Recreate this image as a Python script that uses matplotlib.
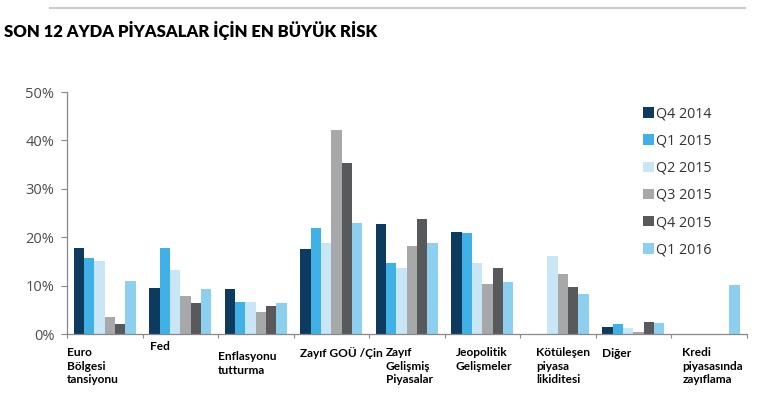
import numpy as np
import matplotlib.pyplot as plt
from matplotlib.lines import Line2D

categories = ["Euro\nBölgesi\ntansiyonu", "Fed", "Enflasyonu\ntutturma", "Zayıf GOÜ /Çin",
              "Zayıf\nGelişmiş\nPiyasalar", "Jeopolitik\nGelişmeler", "Kötüleşen\npiyasa\nlikiditesi",
              "Diğer", "Kredi\npiyasasında\nzayıflama"]
series = ["Q4 2014", "Q1 2015", "Q2 2015", "Q3 2015", "Q4 2015", "Q1 2016"]

q4_2014 = [17.8, 9.6, 9.4, 17.6, 22.7, 21.1, 0.0, 1.4, 0.0]
q1_2015 = [15.6, 17.8, 6.7, 21.8, 14.6, 20.9, 0.0, 2.1, 0.0]
q2_2015 = [15.1, 13.2, 6.7, 18.7, 13.6, 14.7, 16.2, 1.2, 0.0]
q3_2015 = [3.6, 7.9, 4.5, 42.2, 18.2, 10.4, 12.3, 0.5, 0.0]
q4_2015 = [2.0, 6.5, 5.8, 35.4, 23.7, 13.7, 9.8, 2.4, 0.0]
q1_2016 = [10.9, 9.2, 6.4, 23.0, 18.8, 10.7, 8.3, 2.2, 10.2]

yticks = [0, 10, 20, 30, 40, 50]
ytick_labels = ["0%", "10%", "20%", "30%", "40%", "50%"]

values = [q4_2014, q1_2015, q2_2015, q3_2015, q4_2015, q1_2016]
colors = ["#0d3b5f", "#3fb1e6", "#c8e6f6", "#a7a8aa", "#58595b", "#8dcfee"]

# label positions (x in data units, y in axes units)
label_x = [-0.5, 0.6, 1.5, 2.58, 3.72, 4.65, 5.71, 6.59, 7.65]
label_y = [-0.055, -0.03, -0.072, -0.055, -0.055, -0.055, -0.055, -0.058, -0.055]

fig = plt.figure(figsize=(7.68, 3.99), dpi=100)
ax = fig.add_axes([67 / 768, 65 / 399, (746.5 - 67) / 768, 242 / 399])

x = np.arange(len(categories))
w = 0.137
for i, (vals, c) in enumerate(zip(values, colors)):
    ax.bar(x - 3 * w + (i + 0.5) * w, vals, width=w, color=c, label=series[i], linewidth=0)

ax.set_xlim(-0.5, len(categories) - 0.5)
ax.set_ylim(0, 50)
ax.set_yticks(yticks)
ax.set_yticklabels(ytick_labels, fontsize=10.5, color="#4d4d4d", family="Open Sans")
ax.set_xticks(np.arange(len(categories) + 1) - 0.5)
ax.set_xticklabels([])
ax.tick_params(axis="y", length=4, width=0.8, color="#888888", pad=5)
ax.tick_params(axis="x", length=3, width=0.8, color="#888888", direction="out")
for s in ["top", "right"]:
    ax.spines[s].set_visible(False)
for s in ["left", "bottom"]:
    ax.spines[s].set_color("#888888")
    ax.spines[s].set_linewidth(0.9)

for lx, ly, lab in zip(label_x, label_y, categories):
    ax.text(lx, ly, lab, transform=ax.get_xaxis_transform(), ha="left", va="top",
            fontsize=8.6, fontweight="bold", family="Lato", linespacing=1.27)

ax.legend(loc="upper left", bbox_to_anchor=(0.848, 0.94), frameon=False,
          borderaxespad=0, borderpad=0, handlelength=0.75, handleheight=0.75,
          handletextpad=0.15, labelspacing=0.85,
          prop={"family": "Open Sans", "size": 10.3}, labelcolor="#333333")

fig.text(4 / 768, 1 - 31 / 399, "SON 12 AYDA PİYASALAR İÇİN EN BÜYÜK RİSK", ha="left", va="center",
         fontsize=12, fontweight="heavy", family="Lato")
fig.add_artist(Line2D([50 / 768, 745 / 768], [1 - 8 / 399, 1 - 8 / 399], color="#cccccc", linewidth=1.5))

fig.savefig("out.png", dpi=100)
